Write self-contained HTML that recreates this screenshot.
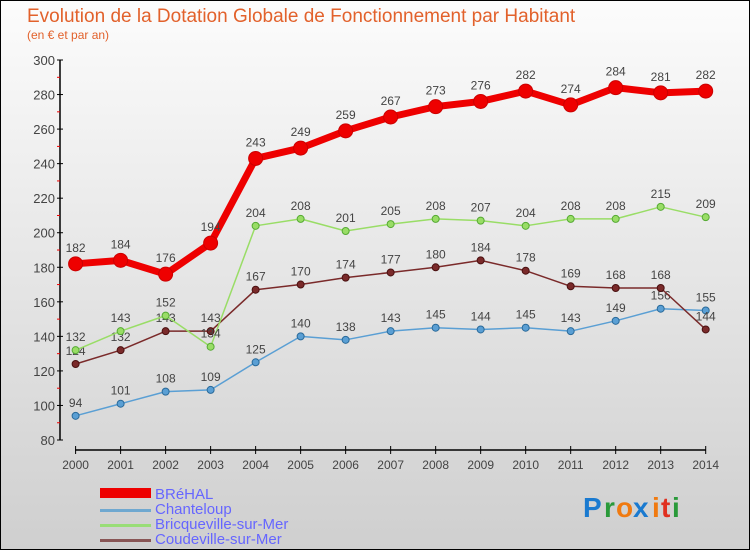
<!DOCTYPE html>
<html><head><meta charset="utf-8"><style>
body{margin:0;width:750px;height:550px;overflow:hidden;font-family:"Liberation Sans",sans-serif}
#wrap{position:absolute;left:0;top:0;width:748px;height:548px;border:1px solid #000;background:linear-gradient(#fcfcfc,#cfcfcf)}
</style></head><body>
<div id="wrap">
<svg id="svg" width="750" height="550" style="position:absolute;left:-1px;top:-1px">
<text x="27" y="22" font-size="19" fill="#e2612b">Evolution de la Dotation Globale de Fonctionnement par Habitant</text>
<text x="27" y="39" font-size="12" fill="#e2612b">(en € et par an)</text>
<g id="axes"></g><g id="series"></g>
<g font-size="15" fill="#6666ff">
<rect x="100" y="488" width="51" height="10" fill="#ee0000"/><text x="155" y="499">BRéHAL</text>
<rect x="100" y="509" width="51" height="3" fill="#6fa8d0"/><text x="155" y="514">Chanteloup</text>
<rect x="100" y="524" width="51" height="3" fill="#99dd77"/><text x="155" y="529">Bricqueville-sur-Mer</text>
<rect x="100" y="539" width="51" height="3" fill="#885555"/><text x="155" y="544">Coudeville-sur-Mer</text>
</g>
<g font-size="28" font-weight="bold">
<text x="583" y="517" fill="#1a7ad0">P</text><text x="604" y="517" fill="#2a9a3a">r</text><text x="616" y="517" fill="#f07a10">o</text><text x="633" y="517" fill="#1a7ad0">x</text><text x="652" y="517" fill="#f07a10">i</text><text x="661" y="517" fill="#e03020">t</text><text x="672" y="517" fill="#2a9a3a">i</text>
</g>
</svg></div>
<script>
const years=[2000,2001,2002,2003,2004,2005,2006,2007,2008,2009,2010,2011,2012,2013,2014];
const yTicks=[80,100,120,140,160,180,200,220,240,260,280,300];
const brehal=[182,184,176,194,243,249,259,267,273,276,282,274,284,281,282];
const chanteloup=[94,101,108,109,125,140,138,143,145,144,145,143,149,156,155];
const bricqueville=[132,143,152,134,204,208,201,205,208,207,204,208,208,215,209];
const coudeville=[124,132,143,143,167,170,174,177,180,184,178,169,168,168,144];
const NS="http://www.w3.org/2000/svg";
const X=i=>75.6+i*(705.7-75.6)/(years.length-1);
const Y=v=>440-(v-80)*(380/220);
function mk(t,a,p){const e=document.createElementNS(NS,t);for(const k in a)e.setAttribute(k,a[k]);p.appendChild(e);return e;}
const ax=document.getElementById('axes');
let e=mk('line',{x1:60,y1:60,x2:60,y2:440,stroke:'#000','stroke-width':1.5},ax);

yTicks.forEach((v,k)=>{const y=Y(v);mk('line',{x1:57,x2:63,y1:y,y2:y,stroke:'#000'},ax);
 if(k>0) mk('line',{x1:57,x2:60,y1:y+17.3,y2:y+17.3,stroke:'#e00'},ax);
 const t=mk('text',{x:55,y:y+5,'text-anchor':'end','font-size':13,fill:'#444'},ax);t.textContent=v;
 });
e=mk('line',{x1:75,y1:450,x2:706,y2:450,stroke:'#000','stroke-width':1.5},ax);

years.forEach((yr,i)=>{const x=X(i);mk('line',{x1:x,x2:x,y1:446,y2:454,stroke:'#000'},ax);
 const t=mk('text',{x:x,y:469,'text-anchor':'middle','font-size':12,fill:'#444'},ax);t.textContent=yr;
 });
const sg=document.getElementById('series');
function draw(vals,name,col,w,r,stroke){
 const g=mk('g',{},sg);
 mk('polyline',{points:vals.map((v,i)=>X(i)+','+Y(v)).join(' '),fill:'none',stroke:col,'stroke-width':w,'stroke-linejoin':'round'},g);
 vals.forEach((v,i)=>{const c=mk('circle',{cx:X(i),cy:Y(v),r:r,fill:col,stroke:stroke,'stroke-width':1},g);
  
  const t=mk('text',{x:X(i),y:Y(v)-9-(r>5?3:0),'text-anchor':'middle','font-size':12,fill:'#444'},g);t.textContent=v;
  });
}
draw(chanteloup,'chanteloup','#5a9fd4',1.5,3.5,'#2a6a9a');
draw(coudeville,'coudeville','#7a2a2a',1.5,3.5,'#4a1010');
draw(bricqueville,'bricqueville','#99dd66',1.5,3.5,'#55aa33');
draw(brehal,'brehal','#ee0000',7,7,'#cc0000');
</script>
</body></html>
